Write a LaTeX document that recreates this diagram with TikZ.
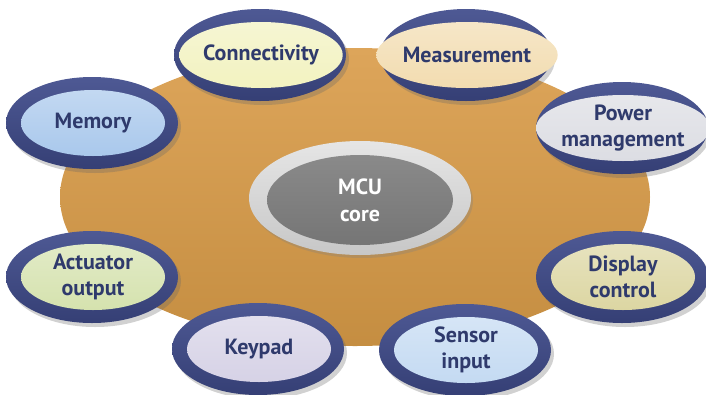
\documentclass[tikz,border=0pt]{standalone}
\usepackage{fontspec}
\setmainfont{PT Sans}
\usetikzlibrary{shapes.geometric,shadows,shadings}
\definecolor{ringc}{HTML}{4E5994}
\definecolor{ringd}{HTML}{353F75}
\definecolor{txtc}{HTML}{2F3A6C}
\definecolor{orangec}{HTML}{D69A47}
\definecolor{orangel}{HTML}{DDA55A}
\tikzset{
  ring/.style={ellipse, inner sep=0pt, minimum width=172pt, minimum height=92pt,
    top color=ringc, bottom color=ringd, shading angle=0,
    drop shadow={shadow xshift=3pt, shadow yshift=-4pt, opacity=0.3, fill=black!60}},
  inner/.style={ellipse, inner sep=0pt, minimum width=144pt, minimum height=66pt,
    top color=#1!70!white, bottom color=#1, align=center,
    font=\bfseries\fontsize{22}{26}\selectfont, text=txtc},
}
\begin{document}
\begin{tikzpicture}[x=1pt,y=-1pt]
\useasboundingbox (0,0) rectangle (706,394);
% base platter
\node[ellipse, inner sep=0pt, minimum width=590pt, minimum height=298pt,
  top color=orangel, bottom color=orangec!92!black] (base) at (355,197) {};
% core
\node[ellipse, inner sep=0pt, minimum width=222pt, minimum height=114pt,
  top color=white!90!black, bottom color=white!78!black,
  drop shadow={shadow xshift=2pt, shadow yshift=-3pt, opacity=0.3}] (coreo) at (360,198) {};
\node[ellipse, inner sep=0pt, minimum width=186pt, minimum height=90pt,
  top color=black!46, bottom color=black!54, text=white, align=center,
  font=\bfseries\fontsize{22}{27}\selectfont] (core) at (360,200) {MCU\\core};
% satellites
\definecolor{c1}{HTML}{F2F2C0}
\definecolor{c2}{HTML}{F2DCB0}
\definecolor{c3}{HTML}{A9C8EC}
\definecolor{c4}{HTML}{DCDDE3}
\definecolor{c5}{HTML}{D5E2AE}
\definecolor{c6}{HTML}{DCD6A2}
\definecolor{c7}{HTML}{D6D2E6}
\definecolor{c8}{HTML}{C4DAF2}
\node[ring] (r1) at (260,55) {};
\node[inner=c1] (n1) at (261,55) {Connectivity};
\node[ring] (r2) at (466,55) {};
\node[inner=c2] (n2) at (467,55) {Measurement};
\node[ring] (r3) at (92,123) {};
\node[inner=c3] (n3) at (93,123) {Memory};
\node[ring] (r4) at (622,128) {};
\node[inner=c4] (n4) at (623,128) {Power\\management};
\node[ring] (r5) at (92,277) {};
\node[inner=c5] (n5) at (93,277) {Actuator\\output};
\node[ring] (r6) at (622,277) {};
\node[inner=c6] (n6) at (623,277) {Display\\control};
\node[ring] (r7) at (258,349) {};
\node[inner=c7] (n7) at (259,349) {Keypad};
\node[ring] (r8) at (465,350) {};
\node[inner=c8] (n8) at (466,350) {Sensor\\input};
\end{tikzpicture}
\end{document}
